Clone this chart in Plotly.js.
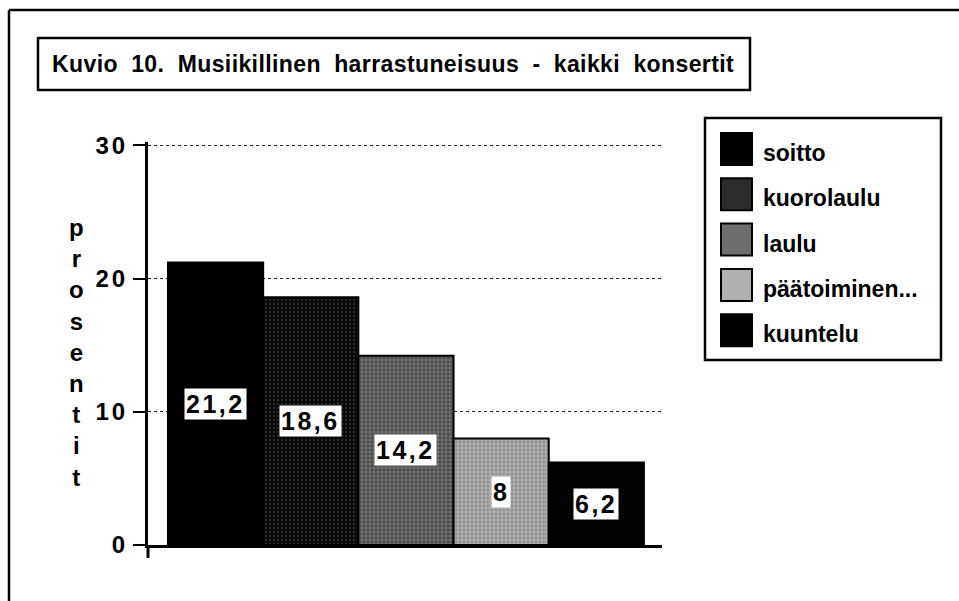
<!DOCTYPE html>
<html>
<head>
<meta charset="utf-8">
<script src="https://cdn.plot.ly/plotly-3.0.1.min.js"></script>
<style>
  html, body { margin: 0; padding: 0; background: #fff; }
  #chart { width: 959px; height: 601px; }
  .gtitle { letter-spacing: 0.4px; word-spacing: 6.5px; }
  .ytick text { letter-spacing: 3px; }
</style>
</head>
<body>
<div id="chart"></div>
<script>
// ---- data ----
var categories = ["soitto", "kuorolaulu", "laulu", "päätoiminen...", "kuuntelu"];
var values = [21.2, 18.6, 14.2, 8, 6.2];
var valueLabels = ["21,2", "18,6", "14,2", "8", "6,2"];
var tickValues = [0, 10, 20, 30];
var tickLabels = ["0", "10", "20", "30"];
var titleText = "Kuvio 10. Musiikillinen harrastuneisuus - kaikki konsertit";
var yTitleText = "prosentit";

// ---- styles ----
var barBg = ["#000000", "#0a0a0a", "#4e4e4e", "#969696", "#030303"];
var barFg = ["#000000", "#5e5e5e", "#9a9a9a", "#cfcfcf", "#2a2a2a"];
var barShape = ["", ".", ".", ".", ""];
var barSolidity = [0.3, 0.2, 0.45, 0.45, 0.3];
var swatchColors = ["#000000", "#2c2c2c", "#6e6e6e", "#b0b0b0", "#000000"];

var W = 959, H = 601;
var M = { l: 148, r: 297, t: 142, b: 56 };
var PW = W - M.l - M.r, PH = H - M.t - M.b;
function px(x) { return (x - M.l) / PW; }
function py(y) { return (H - M.b - y) / PH; }

var FONT = "Liberation Sans, Arial, Helvetica, sans-serif";

var traces = categories.map(function (c, i) {
  return {
    type: "bar",
    name: c,
    x: [c],
    y: [values[i]],
    width: 1,
    marker: {
      color: barBg[i],
      line: { color: "#000", width: 2 },
      pattern: barShape[i] ? {
        shape: barShape[i],
        fillmode: "overlay",
        bgcolor: barBg[i],
        fgcolor: barFg[i],
        size: 4,
        solidity: barSolidity[i]
      } : undefined
    },
    hoverinfo: "x+y",
    showlegend: false
  };
});

var annotations = [];
// value labels on bars (white boxes)
for (var i = 0; i < categories.length; i++) {
  annotations.push({
    x: categories[i], y: values[i] / 2, xref: "x", yref: "y",
    text: '<span style="letter-spacing:2.5px">' + valueLabels[i] + '</span>',
    showarrow: false, bgcolor: "#ffffff", borderpad: 1,
    font: { family: FONT, size: 25, color: "#000", weight: "bold" },
    xanchor: "center", yanchor: "middle"
  });
}
// y-axis title, stacked letters
annotations.push({
  x: px(76), y: py(352), xref: "paper", yref: "paper",
  text: yTitleText.split("").join("<br>"),
  showarrow: false, align: "center",
  font: { family: FONT, size: 24, color: "#000", weight: "bold" },
  xanchor: "center", yanchor: "middle"
});

var shapes = [];
// outer frame (top and left edges)
shapes.push({ type: "line", xref: "paper", yref: "paper", x0: px(9), x1: px(959), y0: py(10), y1: py(10), line: { color: "#000", width: 2.5 } });
shapes.push({ type: "line", xref: "paper", yref: "paper", x0: px(9), x1: px(9), y0: py(10), y1: py(601), line: { color: "#000", width: 2.5 } });
// title box
shapes.push({ type: "rect", xref: "paper", yref: "paper", x0: px(38), x1: px(750), y0: py(90), y1: py(38), line: { color: "#000", width: 2.5 }, fillcolor: "rgba(0,0,0,0)" });
// legend box
shapes.push({ type: "rect", xref: "paper", yref: "paper", x0: px(705), x1: px(941), y0: py(360), y1: py(118), line: { color: "#000", width: 2.5 }, fillcolor: "rgba(0,0,0,0)" });
// y axis extension below zero
shapes.push({ type: "line", xref: "paper", yref: "paper", x0: 0, x1: 0, y0: 0, y1: py(558), line: { color: "#000", width: 3 } });

// custom legend
var swTop = 133, swStep = 45.3, swSize = 32;
for (var j = 0; j < categories.length; j++) {
  var t = swTop + j * swStep;
  shapes.push({ type: "rect", xref: "paper", yref: "paper", x0: px(721), x1: px(752), y0: py(t + swSize), y1: py(t),
    fillcolor: swatchColors[j], line: { color: "#000", width: 2 } });
  annotations.push({
    x: px(761), y: py(t + swSize / 2 + 4), xref: "paper", yref: "paper",
    text: categories[j], showarrow: false,
    font: { family: FONT, size: 23, color: "#000", weight: "bold" },
    xanchor: "left", yanchor: "middle"
  });
}

var layout = {
  width: W, height: H,
  margin: M,
  paper_bgcolor: "#fff", plot_bgcolor: "#fff",
  showlegend: false,
  barmode: "overlay",
  title: {
    text: titleText,
    xref: "container", yref: "container",
    x: 52 / W, xanchor: "left",
    y: 1 - 64 / H, yanchor: "middle",
    font: { family: FONT, size: 23, color: "#000", weight: "bold" }
  },
  xaxis: {
    type: "category",
    categoryorder: "array", categoryarray: categories,
    range: [-0.71, 4.69],
    showline: true, linecolor: "#000", linewidth: 3,
    showgrid: false, zeroline: false,
    showticklabels: false, ticks: "",
    fixedrange: true
  },
  yaxis: {
    range: [0, 30.25],
    tickvals: tickValues, ticktext: tickLabels,
    ticks: "outside", ticklen: 12, tickwidth: 2, tickcolor: "#000",
    showline: true, linecolor: "#000", linewidth: 3,
    showgrid: true, gridcolor: "#222", griddash: "dot", gridwidth: 1,
    zeroline: false,
    tickfont: { family: FONT, size: 24, color: "#000", weight: "bold" },
    fixedrange: true
  },
  annotations: annotations,
  shapes: shapes
};

Plotly.newPlot("chart", traces, layout, { displayModeBar: false, staticPlot: true });
</script>
</body>
</html>
